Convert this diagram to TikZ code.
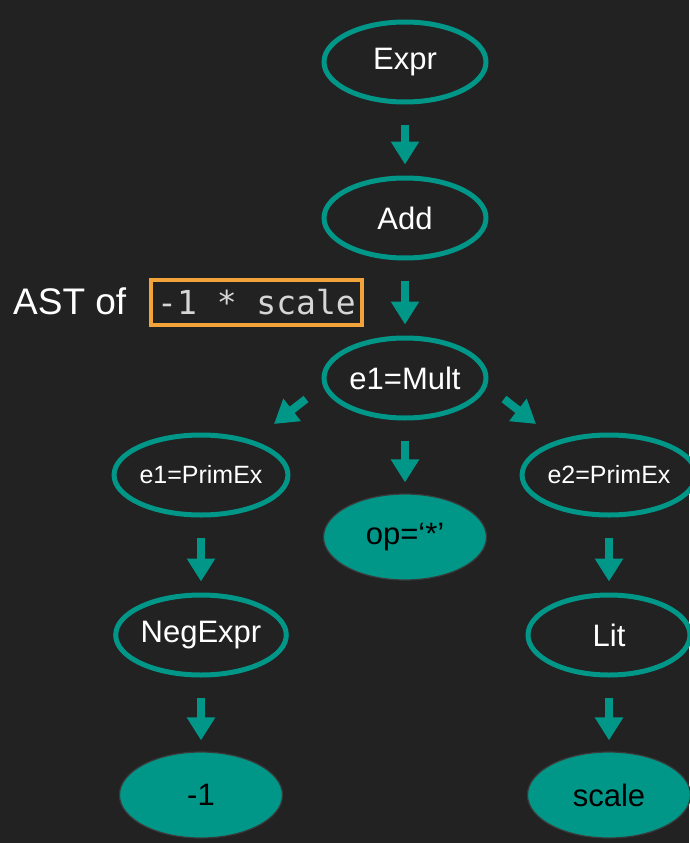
\documentclass[tikz,border=0pt]{standalone}
\usepackage{fontspec}
\setmainfont{Liberation Sans}
\newfontfamily\codefont{DejaVu Sans Mono}
\usetikzlibrary{shapes.geometric,arrows.meta,calc}

\definecolor{bgdark}{HTML}{222222}
\definecolor{teal}{HTML}{009688}
\definecolor{codeorange}{HTML}{F2A33A}
\definecolor{codegray}{HTML}{D6D6D6}
\definecolor{rimgray}{HTML}{3A3A3A}

\tikzset{
  ring/.style={ellipse, draw=teal, line width=5pt, fill=bgdark,
    minimum width=162pt, minimum height=80pt, inner sep=0pt,
    text=white, font=\fontsize{31pt}{31pt}\selectfont},
  smallring/.style={ring, font=\fontsize{25pt}{25pt}\selectfont},
  leaf/.style={ellipse, draw=rimgray, line width=1.2pt, fill=teal,
    minimum width=163pt, minimum height=86pt, inner sep=0pt,
    text=black, font=\fontsize{31pt}{31pt}\selectfont},
  arr/.style={draw=teal, line width=8pt,
    -{Triangle[width=27pt,length=23pt]}},
  down/.style={arr, shorten <=20pt, shorten >=11pt},
}

\begin{document}
\begin{tikzpicture}[x=1pt, y=-1pt]
  \fill[bgdark] (0,0) rectangle (689,843);
  \useasboundingbox (0,0) rectangle (689,843);

  % tree nodes
  \node[ring]      (expr)  at (405,62)  {Expr};
  \node[ring]      (add)   at (405,218) {Add};
  \node[ring]      (mult)  at (405,378) {e1=Mult};
  \node[smallring] (prim1) at (201,475) {e1=PrimEx};
  \node[leaf]      (op)    at (405,537) {op=‘*’};
  \node[smallring] (prim2) at (609,475) {e2=PrimEx};
  \node[ring]      (neg)   at (201,635) {NegExpr};
  \node[ring]      (lit)   at (609,635) {Lit};
  \node[leaf]      (one)   at (201,795) {-1};
  \node[leaf]      (scl)   at (609,795) {scale};

  % caption with code snippet
  \node[anchor=west, text=white, font=\fontsize{37pt}{37pt}\selectfont, inner sep=0pt]
    (cap) at (13,301) {AST of};
  \node[draw=codeorange, line width=4pt, fill=bgdark, anchor=west,
    minimum width=211pt, minimum height=45pt, inner sep=0pt,
    text=codegray, font=\codefont\fontsize{33pt}{33pt}\selectfont]
    (code) at (149,302) {-1 * scale};

  % edges
  \draw[down] (expr) -- (add);
  \draw[down] (add) -- (mult);
  \draw[down] (mult) -- (op);
  \draw[down] (prim1) -- (neg);
  \draw[down] (neg) -- (one);
  \draw[down] (prim2) -- (lit);
  \draw[down] (lit) -- (scl);
  \draw[arr] ($(mult.center)+(-99,21)$) -- ($(mult.center)+(-131,46)$);
  \draw[arr] ($(mult.center)+(99,21)$) -- ($(mult.center)+(131,46)$);
\end{tikzpicture}
\end{document}
